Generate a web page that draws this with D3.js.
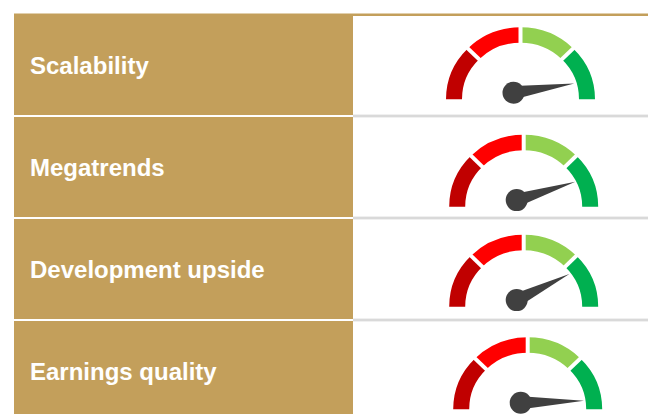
<!DOCTYPE html>
<html>
<head>
<meta charset="utf-8">
<script src="https://cdnjs.cloudflare.com/ajax/libs/d3/7.8.5/d3.min.js"></script>
<style>
    html, body { margin: 0; padding: 0; background: #fff; overflow: hidden; }
    svg { display: block; }
</style>
</head>
<body>
<div id="chart"></div>
<script>
    // ==========================
    // Data
    // ==========================

    const categories = ["Scalability", "Megatrends", "Development upside", "Earnings quality"];

    // needle readings, 0 = far left, 100 = far right
    const readings = [95.2, 90.4, 85.4, 99];

    const zoneLimits = [0, 25, 50, 75, 100];
    const zoneColors = ["#C00000", "#FF0000", "#92D050", "#00B050"];

    // ==========================
    // Layout
    // ==========================

    const width = 648;
    const height = 414;

    const gaugeCx = [520.5, 523.7, 523.7, 527.7];
    const gaugeBase = [84.3, 89.7, 87.7, 88.3];
    const needleLength = [61.4, 61.4, 58.7, 63.3];

    const innerRadius = 58.5;
    const outerRadius = 74.5;

    const svg = d3.select("#chart").append("svg")
        .attr("width", width)
        .attr("height", height);

    const yScale = d3.scaleBand()
        .domain(categories)
        .range([15, 423])
        .paddingInner(0);

    const angleScale = d3.scaleLinear()
        .domain([0, 100])
        .range([-Math.PI / 2, Math.PI / 2]);

    const arc = d3.arc()
        .innerRadius(innerRadius)
        .outerRadius(outerRadius);

    // ==========================
    // Rows
    // ==========================

    svg.append("rect")
        .attr("x", 14)
        .attr("y", 13.5)
        .attr("width", width - 14)
        .attr("height", 2.5)
        .attr("fill", "#C39F5B");

    const rows = svg.selectAll(".row")
        .data(categories)
        .enter()
        .append("g")
        .attr("class", "row")
        .attr("transform", d => `translate(0,${yScale(d)})`);

    rows.append("rect")
        .attr("x", 353)
        .attr("y", yScale.bandwidth() - 2.4)
        .attr("width", width - 353)
        .attr("height", 2.8)
        .attr("fill", "#D9D9D9");

    rows.append("rect")
        .attr("x", 14)
        .attr("y", 0)
        .attr("width", 339)
        .attr("height", yScale.bandwidth() - 2)
        .attr("fill", "#C39F5B");

    rows.append("text")
        .attr("x", 30)
        .attr("y", 51)
        .attr("dy", "0.35em")
        .style("fill", "white")
        .style("font-family", "'Liberation Sans', Arial, sans-serif")
        .style("font-weight", "bold")
        .style("font-size", "24px")
        .text(d => d);

    // ==========================
    // Gauges
    // ==========================

    const gauges = rows.append("g")
        .attr("transform", (d, i) => `translate(${gaugeCx[i]},${gaugeBase[i]})`);

    const dial = gauges.append("g")
        .attr("transform", "scale(1,0.966)");

    dial.selectAll(".zone")
        .data(zoneColors)
        .enter()
        .append("path")
        .attr("class", "zone")
        .attr("fill", d => d)
        .attr("d", (d, i) => arc({
            startAngle: angleScale(zoneLimits[i]),
            endAngle: angleScale(zoneLimits[i + 1])
        }));

    // white gaps between the zones
    dial.selectAll(".gap")
        .data(zoneLimits.slice(1, -1))
        .enter()
        .append("line")
        .attr("class", "gap")
        .attr("stroke", "white")
        .attr("stroke-width", 4)
        .attr("x1", d => Math.sin(angleScale(d)) * (innerRadius - 2))
        .attr("y1", d => -Math.cos(angleScale(d)) * (innerRadius - 2))
        .attr("x2", d => Math.sin(angleScale(d)) * (outerRadius + 2))
        .attr("y2", d => -Math.cos(angleScale(d)) * (outerRadius + 2));

    // ==========================
    // Needles
    // ==========================

    const needles = gauges.append("g")
        .attr("transform", "translate(-7,-6.6)");

    needles.append("path")
        .attr("fill", "#404040")
        .attr("transform", (d, i) => `rotate(${angleScale(readings[i]) * 180 / Math.PI - 90})`)
        .attr("d", (d, i) => `M8,-5.8L${needleLength[i]},0L8,5.8Z`);

    needles.append("circle")
        .attr("r", 11)
        .attr("fill", "#404040");
</script>
</body>
</html>
